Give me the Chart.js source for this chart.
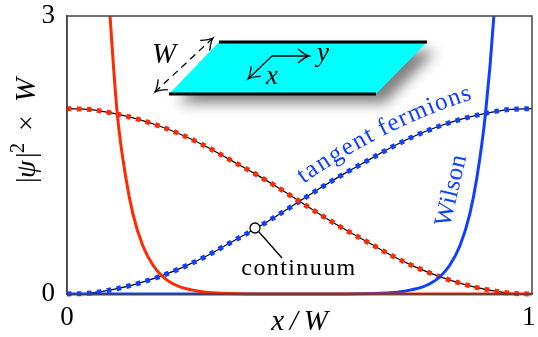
<!DOCTYPE html>
<html lang="en">
  <head>
    <meta charset="UTF-8" />
    <title>Tangent fermions vs Wilson</title>
    <script src="https://cdn.jsdelivr.net/npm/chart.js"></script>
    <style>
      html, body { margin: 0; padding: 0; background: #fff; }
      canvas { display: block; }
    </style>
  </head>
  <body>
    <canvas id="waveChart" width="538" height="337"></canvas>

    <script>
      // values
      const gridX = [0, 0.05, 0.1, 0.15, 0.2, 0.25, 0.3, 0.35, 0.4, 0.45, 0.5, 0.55, 0.6, 0.65, 0.7, 0.75, 0.8, 0.85, 0.9, 0.95, 1];
      const tangentLeft = [2, 1.99, 1.95, 1.89, 1.81, 1.71, 1.59, 1.45, 1.31, 1.16, 1, 0.84, 0.69, 0.55, 0.41, 0.29, 0.19, 0.11, 0.05, 0.01, 0];
      const tangentRight = [0, 0.01, 0.05, 0.11, 0.19, 0.29, 0.41, 0.55, 0.69, 0.84, 1, 1.16, 1.31, 1.45, 1.59, 1.71, 1.81, 1.89, 1.95, 1.99, 2];
      const continuumLeft = [2, 1.99, 1.95, 1.89, 1.81, 1.71, 1.59, 1.45, 1.31, 1.16, 1, 0.84, 0.69, 0.55, 0.41, 0.29, 0.19, 0.11, 0.05, 0.01, 0];
      const continuumRight = [0, 0.01, 0.05, 0.11, 0.19, 0.29, 0.41, 0.55, 0.69, 0.84, 1, 1.16, 1.31, 1.45, 1.59, 1.71, 1.81, 1.89, 1.95, 1.99, 2];
      const wilsonLeftX = [0.07, 0.0925, 0.108, 0.127, 0.142, 0.163, 0.185, 0.206, 0.225, 0.243, 0.286, 0.32, 0.35, 0.4, 1];
      const wilsonLeftY = [4.8, 3, 1.95, 1.24, 0.86, 0.52, 0.31, 0.186, 0.118, 0.076, 0.027, 0.012, 0.005, 0, 0];
      const wilsonRightX = [0, 0.6, 0.658, 0.688, 0.722, 0.765, 0.783, 0.802, 0.823, 0.845, 0.866, 0.881, 0.9, 0.918, 0.938];
      const wilsonRightY = [0, 0, 0.005, 0.012, 0.027, 0.076, 0.118, 0.186, 0.31, 0.52, 0.86, 1.24, 1.95, 3, 4.8];
      const xTicks = [0, 1];
      const yTicks = [0, 3];

      const red = "#ff2a00";
      const blue = "#1040ff";
      const serif = '"Liberation Serif", serif';

      const pts = (xs, ys) => xs.map((x, i) => ({ x: x, y: ys[i] }));

      function smooth(data, color, width, dash) {
        return {
          data: data,
          borderColor: color,
          borderWidth: width,
          borderDash: dash || [],
          pointRadius: 0,
          cubicInterpolationMode: "monotone",
          clip: { left: 6, top: 0, right: 6, bottom: 6 },
        };
      }

      function label(ctx, text, x, y, font, color, angle, spacing) {
        ctx.save();
        ctx.translate(x, y);
        ctx.rotate(angle || 0);
        ctx.font = font;
        ctx.fillStyle = color || "#000";
        ctx.letterSpacing = spacing || "0px";
        ctx.textAlign = "center";
        ctx.textBaseline = "alphabetic";
        ctx.fillText(text, 0, 0);
        ctx.restore();
      }

      function arrowHead(ctx, x, y, angle) {
        ctx.save();
        ctx.translate(x, y);
        ctx.rotate(angle);
        ctx.setLineDash([]);
        ctx.beginPath();
        ctx.moveTo(-11, -7);
        ctx.quadraticCurveTo(-4, -1, 0, 0);
        ctx.quadraticCurveTo(-4, 1, -11, 7);
        ctx.stroke();
        ctx.restore();
      }

      function arrow(ctx, x0, y0, x1, y1, dash) {
        ctx.save();
        ctx.strokeStyle = "#000";
        ctx.lineWidth = 1.3;
        ctx.setLineDash(dash || []);
        ctx.beginPath();
        ctx.moveTo(x0, y0);
        ctx.lineTo(x1, y1);
        ctx.stroke();
        arrowHead(ctx, x1, y1, Math.atan2(y1 - y0, x1 - x0));
        if (dash) arrowHead(ctx, x0, y0, Math.atan2(y0 - y1, x0 - x1));
        ctx.restore();
      }

      // text that follows the tangent fermion curve
      function curvedText(ctx, text, p0, p1, p2, font, color) {
        ctx.save();
        ctx.font = font;
        ctx.fillStyle = color;
        ctx.textAlign = "center";
        const total = ctx.measureText(text).width;
        let run = 0;
        for (const ch of text) {
          const w = ctx.measureText(ch).width;
          const t = (run + w / 2) / total;
          const x = (1 - t) * (1 - t) * p0[0] + 2 * t * (1 - t) * p1[0] + t * t * p2[0];
          const y = (1 - t) * (1 - t) * p0[1] + 2 * t * (1 - t) * p1[1] + t * t * p2[1];
          const dx = 2 * (1 - t) * (p1[0] - p0[0]) + 2 * t * (p2[0] - p1[0]);
          const dy = 2 * (1 - t) * (p1[1] - p0[1]) + 2 * t * (p2[1] - p1[1]);
          ctx.save();
          ctx.translate(x, y);
          ctx.rotate(Math.atan2(dy, dx));
          ctx.fillText(ch, 0, 0);
          ctx.restore();
          run += w;
        }
        ctx.restore();
      }

      // y axis title, mixed upright and italic so done by hand
      function yTitle(ctx) {
        const runs = [
          ["|", "28px " + serif, 0, 0],
          ["ψ", "italic 28px " + serif, 0, 5],
          ["|", "28px " + serif, 0, 25],
          ["2", "20px " + serif, -11, 30],
          ["×", "28px " + serif, 0, 52],
          ["W", "italic 29px " + serif, 0, 81],
        ];
        ctx.save();
        ctx.translate(35, 183);
        ctx.rotate(-Math.PI / 2);
        ctx.fillStyle = "#000";
        ctx.textAlign = "left";
        for (const r of runs) {
          ctx.font = r[1];
          ctx.fillText(r[0], r[3], r[2]);
        }
        ctx.restore();
      }

      // frame on top and right, sample inset and labels
      const insetPlugin = {
        id: "inset",
        afterDatasetsDraw(chart) {
          const ctx = chart.ctx;
          const a = chart.chartArea;

          ctx.save();
          ctx.strokeStyle = "#444";
          ctx.lineWidth = 1.5;
          ctx.strokeRect(a.left, a.top, a.right - a.left, a.bottom - a.top);
          ctx.restore();

          // sheet with soft shadow
          ctx.save();
          ctx.shadowColor = "rgba(0,0,0,0.5)";
          ctx.shadowBlur = 13;
          ctx.shadowOffsetX = 9;
          ctx.shadowOffsetY = 9;
          ctx.fillStyle = "#00ffff";
          ctx.beginPath();
          ctx.moveTo(219, 42);
          ctx.lineTo(427, 42);
          ctx.lineTo(376, 94);
          ctx.lineTo(169, 94);
          ctx.closePath();
          ctx.fill();
          ctx.restore();

          ctx.fillStyle = "#000";
          ctx.fillRect(219, 40.5, 208, 3);
          ctx.fillRect(169, 92.5, 207, 3);

          arrow(ctx, 272, 56, 248, 79);
          arrow(ctx, 272, 56, 309, 56);
          arrow(ctx, 155, 92, 213, 38, [7, 5]);

          label(ctx, "W", 164, 63, "italic 29px " + serif);
          label(ctx, "x", 272, 84, "italic 27px " + serif);
          label(ctx, "y", 323, 61, "italic 27px " + serif);

          // continuum pointer
          ctx.save();
          ctx.strokeStyle = "#000";
          ctx.fillStyle = "#fff";
          ctx.lineWidth = 1.3;
          ctx.beginPath();
          ctx.arc(255, 228, 5, 0, Math.PI * 2);
          ctx.fill();
          ctx.moveTo(259, 232);
          ctx.lineTo(282, 258);
          ctx.stroke();
          ctx.restore();
          label(ctx, "continuum", 299, 275, "24px " + serif, "#000", 0, "1.4px");

          label(ctx, "Wilson", 458, 192, "25px " + serif, blue, -1.34, "0.3px");
          curvedText(ctx, "tangent fermions", [303, 184], [385, 127], [473, 99], "25px " + serif, blue);

          yTitle(ctx);
        },
      };

      new Chart(document.getElementById("waveChart"), {
        type: "line",
        data: {
          datasets: [
            smooth(pts(wilsonLeftX, wilsonLeftY), red, 3),
            smooth(pts(wilsonRightX, wilsonRightY), blue, 3),
            smooth(pts(gridX, tangentLeft), red, 5, [4.5, 5.5]),
            smooth(pts(gridX, tangentRight), blue, 5, [4.5, 5.5]),
            smooth(pts(gridX, continuumLeft), "#000", 1.2),
            smooth(pts(gridX, continuumRight), "#000", 1.2),
          ],
        },
        options: {
          responsive: false,
          animation: false,
          layout: { padding: { top: 16, right: 6, bottom: 0, left: 0 } },
          plugins: { legend: { display: false }, tooltip: { enabled: false } },
          scales: {
            x: {
              type: "linear",
              min: 0,
              max: 1,
              afterBuildTicks(axis) { axis.ticks = xTicks.map((v) => ({ value: v })); },
              afterFit(axis) {
                axis.height = 43;
                axis.paddingLeft = 0;
                axis.paddingRight = 0;
              },
              grid: { display: false },
              border: { color: "#444", width: 1.5 },
              ticks: {
                maxRotation: 0,
                padding: 2,
                color: "#000",
                font: { family: serif, size: 27, lineHeight: 1 },
                // the 1 sits a little inside the frame
                callback: (v) => (v === 1 ? "1\u00a0" : String(v)),
              },
              title: {
                display: true,
                text: "x\u2009/\u2009W",
                padding: 0,
                color: "#000",
                font: { family: serif, size: 29, style: "italic", lineHeight: 1 },
              },
            },
            y: {
              min: 0,
              max: 3,
              afterBuildTicks(axis) { axis.ticks = yTicks.map((v) => ({ value: v })); },
              afterFit(axis) {
                axis.width = 67;
                axis.paddingTop = 0;
                axis.paddingBottom = 0;
              },
              grid: { display: false },
              border: { color: "#444", width: 1.5 },
              ticks: {
                padding: 4,
                color: "#000",
                font: { family: serif, size: 27, lineHeight: 1 },
              },
            },
          },
        },
        plugins: [insetPlugin],
      });
    </script>
  </body>
</html>
